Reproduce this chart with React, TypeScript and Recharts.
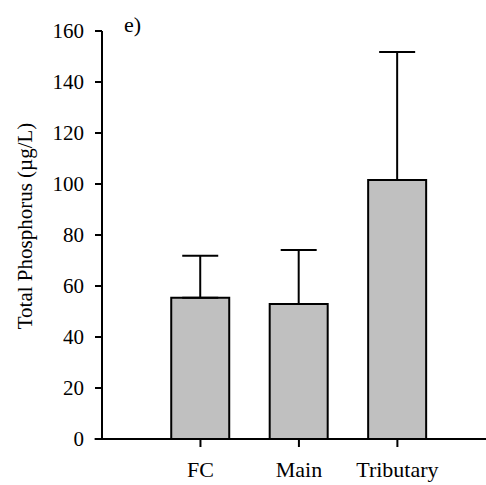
import { Bar, BarChart, ErrorBar, ReferenceLine, XAxis, YAxis } from 'recharts';

const CATEGORIES = ['FC', 'Main', 'Tributary'];
const MEAN_TP = [55.4, 52.9, 101.6];
const SD_TP = [16.5, 21.2, 50.2];
const Y_TICKS = [0, 20, 40, 60, 80, 100, 120, 140, 160];

const FONT = '"Liberation Serif", "Times New Roman", serif';
const X_TICK = { fill: '#000', fontFamily: FONT, fontSize: 22 };
const Y_TICK = { fill: '#000', fontFamily: FONT, fontSize: 21 };
const LINE = { stroke: '#000', strokeWidth: 2 };

const data = CATEGORIES.map((name, i) => ({
  pos: i + 1,
  name,
  mean: MEAN_TP[i],
  err: SD_TP[i],
}));

function YLabel(props: { viewBox?: { x: number; y: number; width: number; height: number } }) {
  const vb = props.viewBox ?? { x: 0, y: 31, width: 102, height: 408 };
  const x = vb.x + 32;
  const y = vb.y + vb.height / 2 - 9;
  return (
    <text
      x={x}
      y={y}
      fill="#000"
      fontFamily={FONT}
      fontSize={21}
      textAnchor="middle"
      transform={`rotate(-90, ${x}, ${y})`}
    >
      Total Phosphorus (µg/L)
    </text>
  );
}

export default function App() {
  return (
    <div style={{ position: 'absolute', left: 0, top: 0, width: 486, height: 485, background: '#fff' }}>
      <div
        style={{
          position: 'absolute',
          left: 124,
          top: 12,
          fontFamily: FONT,
          fontSize: 22,
          lineHeight: '26px',
          color: '#000',
        }}
      >
        e)
      </div>
      <BarChart
        data={data}
        height={485}
        margin={{ bottom: 0, left: 0, right: 0, top: 31 }}
        width={486}
      >
        <XAxis
          axisLine={false}
          dataKey="pos"
          domain={[0, 3.9]}
          height={46}
          tick={X_TICK}
          tickFormatter={(v: number) => CATEGORIES[v - 1] ?? ''}
          tickLine={LINE}
          tickMargin={14}
          tickSize={8}
          ticks={[1, 2, 3]}
          type="number"
        />
        <YAxis
          axisLine={LINE}
          domain={[0, 160]}
          label={<YLabel />}
          tick={Y_TICK}
          tickLine={LINE}
          tickMargin={11}
          tickSize={7}
          ticks={Y_TICKS}
          type="number"
          width={102}
        />
        <ReferenceLine
          ifOverflow="visible"
          segment={[
            { x: -0.075, y: 0 },
            { x: 3.9, y: 0 },
          ]}
          stroke="#000"
          strokeWidth={2}
        />
        <Bar
          barSize={58}
          dataKey="mean"
          fill="#c0c0c0"
          isAnimationActive={false}
          stroke="#000"
          strokeWidth={2}
        >
          <ErrorBar
            dataKey={(d: { err: number }) => [0, d.err]}
            direction="y"
            isAnimationActive={false}
            stroke="#000"
            strokeWidth={2}
            width={18}
          />
        </Bar>
      </BarChart>
    </div>
  );
}
